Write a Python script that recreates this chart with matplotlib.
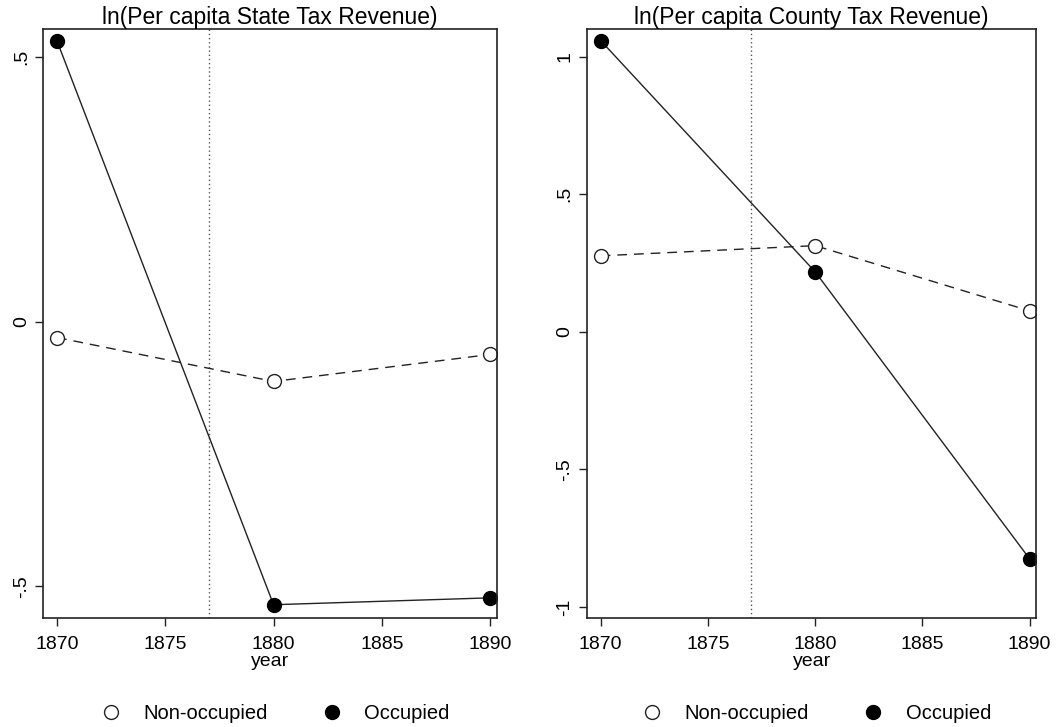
import numpy as np
import matplotlib
matplotlib.use("Agg")
import matplotlib.pyplot as plt
from matplotlib.lines import Line2D

plt.rcParams['font.family'] = ['Liberation Sans', 'DejaVu Sans']

# data
years = [1870, 1880, 1890]
state_nonocc = [-0.03, -0.113, -0.062]
state_occ = [0.53, -0.535, -0.522]
county_nonocc = [0.276, 0.313, 0.076]
county_occ = [1.058, 0.218, -0.825]
titles = ["ln(Per capita State Tax Revenue)", "ln(Per capita County Tax Revenue)"]
state_yticks = [-0.5, 0, 0.5]
state_ylabels = ["-.5", "0", ".5"]
county_yticks = [-1, -0.5, 0, 0.5, 1]
county_ylabels = ["-1", "-.5", "0", ".5", "1"]
xticks = [1870, 1875, 1880, 1885, 1890]
event_year = 1877

fig = plt.figure(figsize=(10.63, 7.27), dpi=100)
ax1 = fig.add_axes([0.0405, 0.150, 0.427, 0.810])
ax2 = fig.add_axes([0.552, 0.150, 0.423, 0.810])

panels = [
    (ax1, state_nonocc, state_occ, state_yticks, state_ylabels, (-0.56, 0.553)),
    (ax2, county_nonocc, county_occ, county_yticks, county_ylabels, (-1.04, 1.10)),
]

for i, (ax, nonocc, occ, yt, yl, ylim) in enumerate(panels):
    ax.axvline(event_year, color='#555555', lw=1, ls=(0, (1, 2)))
    ax.plot(years, nonocc, color='#222222', lw=1, ls=(0, (7, 5)),
            marker='o', ms=10, mfc='white', mec='#222222', mew=1)
    ax.plot(years, occ, color='#222222', lw=1, ls='-',
            marker='o', ms=10, mfc='black', mec='black')
    ax.set_xlim(1869.35, 1890.32)
    ax.set_ylim(*ylim)
    ax.set_xticks(xticks)
    ax.set_yticks(yt)
    ax.set_yticklabels(yl, rotation=90, va='center')
    ax.tick_params(labelsize=14, length=6, width=1, direction='out', color='#222222')
    ax.tick_params(axis='x', pad=7)
    ax.set_xlabel("year", fontsize=14, labelpad=0)
    ax.set_title(titles[i], fontsize=16.5, pad=3)
    for s in ax.spines.values():
        s.set_linewidth(1.2)
        s.set_color('#222222')

    handles = [
        Line2D([], [], ls='none', marker='o', ms=10, mfc='white', mec='#222222'),
        Line2D([], [], ls='none', marker='o', ms=10, mfc='black', mec='black'),
    ]
    ax.legend(handles, ["Non-occupied", "Occupied"], loc='upper center',
              bbox_to_anchor=(0.5, -0.115), ncol=2, frameon=False, fontsize=14.5,
              handletextpad=0.6, columnspacing=2.2)

fig.savefig("out.png", dpi=100)
